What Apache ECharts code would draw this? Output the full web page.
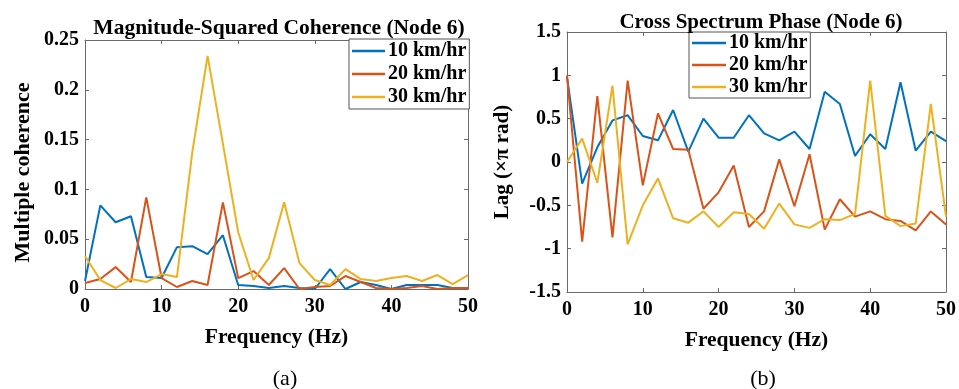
<!DOCTYPE html>
<html>
<head>
<meta charset="utf-8">
<script src="https://cdn.jsdelivr.net/npm/echarts@6/dist/echarts.min.js"></script>
<style>html,body{margin:0;padding:0;background:#fff;}#c{width:959px;height:389px;}</style>
</head>
<body>
<div id="c"></div>
<script>
// Frequency (Hz)
var freq = [0,2,4,6,8,10,12,14,16,18,20,22,24,26,28,30,32,34,36,38,40,42,44,46,48,50];
var seriesNames = ['10 km/hr','20 km/hr','30 km/hr'];

// (a) Magnitude-squared coherence
var coh10 = [0.008,0.084,0.067,0.073,0.012,0.011,0.042,0.043,0.035,0.054,0.004,0.003,0.001,0.003,0.001,0.000,0.020,0.000,0.007,0.004,0.000,0.004,0.004,0.004,0.001,0.001];
var coh20 = [0.006,0.010,0.022,0.007,0.092,0.011,0.002,0.008,0.004,0.087,0.011,0.018,0.004,0.021,0.000,0.002,0.003,0.013,0.007,0.001,0.000,0.001,0.003,0.000,0.001,0.001];
var coh30 = [0.033,0.009,0.001,0.010,0.007,0.015,0.012,0.137,0.234,0.146,0.057,0.009,0.031,0.087,0.026,0.009,0.004,0.020,0.010,0.008,0.011,0.013,0.008,0.014,0.005,0.014];

// (b) Cross spectrum phase (x pi rad)
var ph10 = [0.98,-0.25,0.17,0.48,0.54,0.30,0.25,0.60,0.12,0.50,0.28,0.28,0.54,0.33,0.25,0.35,0.15,0.81,0.67,0.07,0.32,0.15,0.92,0.13,0.35,0.24];
var ph20 = [1.00,-0.92,0.76,-0.87,0.94,-0.27,0.56,0.15,0.14,-0.54,-0.35,-0.04,-0.75,-0.57,0.03,-0.51,0.09,-0.78,-0.43,-0.63,-0.57,-0.66,-0.68,-0.79,-0.57,-0.72];
var ph30 = [0.00,0.27,-0.24,0.88,-0.95,-0.50,-0.19,-0.65,-0.70,-0.57,-0.75,-0.58,-0.60,-0.77,-0.48,-0.72,-0.76,-0.66,-0.67,-0.60,0.94,-0.62,-0.74,-0.71,0.67,-0.63];

var colors = ['#0072BD','#D95319','#EDB120'];
var FONT = '"Liberation Serif","Times New Roman",serif';

function pairs(ys){ return freq.map(function(f,i){ return [f, ys[i]]; }); }

function xAx(grid, bottom){
  return {
    type:'value', gridIndex:grid, min:0, max:50, interval:10,
    position: bottom ? 'bottom' : 'top',
    axisLine:{show:true, onZero:false, lineStyle:{color:'#6a6a6a', width:1}},
    axisTick:{show:true, inside:true, length:4, lineStyle:{color:'#6a6a6a'}},
    axisLabel:{show:bottom, color:'#000', fontFamily:FONT, fontWeight:'bold', fontSize:20, margin:8},
    splitLine:{show:false},
    name: bottom ? 'Frequency (Hz)' : '',
    nameLocation:'middle', nameGap:37,
    nameTextStyle:{color:'#000', fontFamily:FONT, fontWeight:'bold', fontSize:21.5}
  };
}
function yAx(grid, left, min, max, interval, name, gap, nameSize, namePad){
  return {
    type:'value', gridIndex:grid, min:min, max:max, interval:interval,
    position: left ? 'left' : 'right',
    axisLine:{show:true, onZero:false, lineStyle:{color:'#6a6a6a', width:1}},
    axisTick:{show:true, inside:true, length:4, lineStyle:{color:'#6a6a6a'}},
    axisLabel:{show:left, color:'#000', fontFamily:FONT, fontWeight:'bold', fontSize:20, margin:6},
    splitLine:{show:false},
    name: left ? name : '',
    nameLocation:'middle', nameGap:gap, nameRotate:90,
    nameTextStyle:{color:'#000', fontFamily:FONT, fontWeight:'bold', fontSize:nameSize || 21, padding:namePad || 0}
  };
}

var series = [];
[[coh10,coh20,coh30],[ph10,ph20,ph30]].forEach(function(group, g){
  group.forEach(function(ys, k){
    series.push({
      name: seriesNames[k], type:'line', xAxisIndex: g*2, yAxisIndex: g*2,
      data: pairs(ys), showSymbol:false, symbol:'none',
      lineStyle:{color:colors[k], width:2}, itemStyle:{color:colors[k]},
      z: 2+k
    });
  });
});

var chart = echarts.init(document.getElementById('c'), null, {renderer:'canvas'});
chart.setOption({
  animation:false,
  backgroundColor:'#fff',
  color: colors,
  title:[
    {text:'Magnitude-Squared Coherence (Node 6)', left:274, top:12, textAlign:'center',
     textStyle:{fontFamily:FONT, fontWeight:'bold', fontSize:21.5, color:'#000'}},
    {text:'Cross Spectrum Phase (Node 6)', left:756, top:7, textAlign:'center',
     textStyle:{fontFamily:FONT, fontWeight:'bold', fontSize:21, color:'#000'}},
    {text:'(a)', left:280, top:363, textAlign:'center',
     textStyle:{fontFamily:FONT, fontWeight:'normal', fontSize:22, color:'#000'}},
    {text:'(b)', left:758, top:363, textAlign:'center',
     textStyle:{fontFamily:FONT, fontWeight:'normal', fontSize:22, color:'#000'}}
  ],
  legend:[
    {data:seriesNames, orient:'vertical', left:349, top:39,
     backgroundColor:'#fff', borderColor:'#555', borderWidth:1, borderRadius:0,
     padding:[2,3,2,3], itemGap:3, itemWidth:33, itemHeight:2.5, icon:'rect',
     textStyle:{fontFamily:FONT, fontWeight:'bold', fontSize:20, lineHeight:20, color:'#000', padding:[0,0,0,-2]}},
    {data:seriesNames, orient:'vertical', left:689, top:32,
     backgroundColor:'#fff', borderColor:'#555', borderWidth:1, borderRadius:0,
     padding:[1,3,1,3], itemGap:2, itemWidth:34, itemHeight:2.5, icon:'rect',
     textStyle:{fontFamily:FONT, fontWeight:'bold', fontSize:20, lineHeight:19, color:'#000', padding:[0,0,0,-2]}}
  ],
  grid:[
    {left:85, right:491, top:40, bottom:100},
    {left:567, right:11, top:32, bottom:97}
  ],
  xAxis:[xAx(0,true), xAx(0,false), xAx(1,true), xAx(1,false)],
  yAxis:[
    yAx(0,true,0,0.25,0.05,'Multiple coherence',51,22,[0,16,0,0]), yAx(0,false,0,0.25,0.05,'',0),
    yAx(1,true,-1.5,1.5,0.5,'Lag (\u00D7\u03C0 rad)',54,21), yAx(1,false,-1.5,1.5,0.5,'',0)
  ],
  series: series
});
</script>
</body>
</html>
